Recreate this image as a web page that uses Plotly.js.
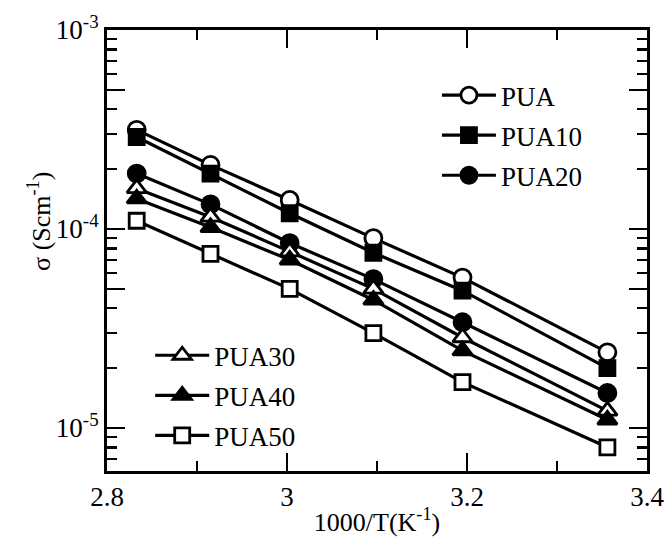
<!DOCTYPE html>
<html>
<head>
<meta charset="utf-8">
<script src="https://cdn.plot.ly/plotly-3.0.1.min.js"></script>
<style>html,body{margin:0;padding:0;background:#fff}#chart{width:668px;height:546px}</style>
</head>
<body>
<div id="chart"></div>
<script>
const invT = [2.833, 2.915, 3.003, 3.096, 3.195, 3.356];
const names = ["PUA", "PUA10", "PUA20", "PUA30", "PUA40", "PUA50"];
const PUA   = [3.15e-4, 2.1e-4, 1.4e-4, 9.0e-5, 5.7e-5, 2.4e-5];
const PUA10 = [2.9e-4, 1.9e-4, 1.2e-4, 7.6e-5, 4.9e-5, 2.0e-5];
const PUA20 = [1.9e-4, 1.33e-4, 8.5e-5, 5.6e-5, 3.4e-5, 1.5e-5];
const PUA30 = [1.6e-4, 1.15e-4, 7.7e-5, 5.0e-5, 2.85e-5, 1.22e-5];
const PUA40 = [1.42e-4, 1.02e-4, 7.0e-5, 4.4e-5, 2.45e-5, 1.1e-5];
const PUA50 = [1.1e-4, 7.5e-5, 5.0e-5, 3.0e-5, 1.7e-5, 8.0e-6];
const series = [PUA, PUA10, PUA20, PUA30, PUA40, PUA50];
const symbols = ["circle", "square", "circle", "triangle-up", "triangle-up", "square"];
const fills = ["#fff", "#000", "#000", "#fff", "#000", "#fff"];
const legends = ["legend", "legend", "legend", "legend2", "legend2", "legend2"];

const yMajor = [1e-5, 5e-5, 1e-4, 5e-4, 1e-3];
const yMajorText = ["10<sup>-5</sup>", "", "10<sup>-4</sup>", "", "10<sup>-3</sup>"];
const xMajor = [2.8, 3.0, 3.2, 3.4];
const xMajorText = ["2.8", "3", "3.2", "3.4"];
const xMinor = [2.9, 3.1, 3.3];
const yMinor = [6e-6, 7e-6, 8e-6, 9e-6, 2e-5, 3e-5, 4e-5, 6e-5, 7e-5, 8e-5, 9e-5,
                2e-4, 3e-4, 4e-4, 6e-4, 7e-4, 8e-4, 9e-4];
const xTitle = "1000/T(K<sup>-1</sup>)";
const yTitle = "σ (Scm<sup>-1</sup>)";

const traces = series.map((s, i) => ({
  x: invT, y: s, name: names[i], type: "scatter", mode: "lines+markers",
  legend: legends[i], legendgroup: names[i],
  line: {color: "#000", width: 3.2},
  marker: {symbol: symbols[i], size: symbols[i] === "square" ? 15 : 17, color: fills[i],
           line: {color: "#000", width: 2.8}}
}));

const font = {family: "Liberation Serif, Times New Roman, serif", color: "#000"};
const F = s => Object.assign({size: s}, font);
const layout = {
  width: 668, height: 546,
  margin: {l: 107, r: 21, t: 30, b: 75},
  paper_bgcolor: "#fff", plot_bgcolor: "#fff",
  showlegend: true,
  font: F(27),
  xaxis: {
    range: [2.8, 3.4], tickmode: "array", tickvals: xMajor, ticktext: xMajorText,
    ticks: "inside", ticklen: 18, tickwidth: 2.5, tickcolor: "#000",
    showline: true, linewidth: 3, linecolor: "#000", mirror: "ticks",
    showgrid: false, zeroline: false,
    tickfont: F(27),
    minor: {tickmode: "array", tickvals: xMinor, ticks: "inside", ticklen: 10, tickwidth: 2.5, tickcolor: "#000", showgrid: false},
    title: {text: xTitle, font: F(26), standoff: 2}
  },
  yaxis: {
    type: "log", range: [-5.216, -3], tickmode: "array", tickvals: yMajor, ticktext: yMajorText,
    ticks: "inside", ticklen: 18, tickwidth: 2.5, tickcolor: "#000",
    showline: true, linewidth: 3, linecolor: "#000", mirror: "ticks",
    showgrid: false, zeroline: false,
    tickfont: F(27),
    minor: {tickmode: "array", tickvals: yMinor, ticks: "inside", ticklen: 10, tickwidth: 2.5, tickcolor: "#000", showgrid: false}
  },
  annotations: [{
    text: yTitle, xref: "paper", yref: "paper", x: -0.124, y: 0.565,
    xanchor: "center", yanchor: "middle", textangle: -90, showarrow: false, font: F(26)
  }],
  legend: {x: 0.611, y: 0.907, xanchor: "left", yanchor: "top", bgcolor: "rgba(0,0,0,0)",
           borderwidth: 0, tracegroupgap: 2, font: F(27), itemwidth: 54},
  legend2: {x: 0.08, y: 0.317, xanchor: "left", yanchor: "top", bgcolor: "rgba(0,0,0,0)",
           borderwidth: 0, tracegroupgap: 2, font: F(27), itemwidth: 54}
};

Plotly.newPlot("chart", traces, layout, {displayModeBar: false, staticPlot: true});
</script>
</body>
</html>
